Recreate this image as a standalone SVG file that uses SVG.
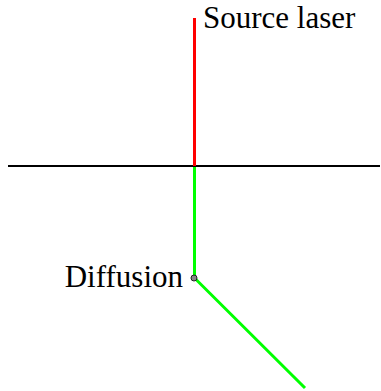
<svg xmlns="http://www.w3.org/2000/svg" width="381" height="391" viewBox="0 0 381 391">
<style>
.t{font-family:"Liberation Serif","Times New Roman",serif;font-size:31px;fill:#000}
.ln{fill:none;stroke-width:2}
.c{fill:none;stroke-width:3}
</style>
<rect width="381" height="391" fill="#fff"/>
<g id="connectors">
<line class="ln" x1="8" y1="166" x2="380" y2="166" stroke="#000"/>
<line class="c" x1="194.5" y1="18" x2="194.5" y2="166" stroke="#ff0000"/>
<polyline class="c" points="194.5,167 194.5,278 305,388" stroke="#00ff00"/>
</g>
<g id="source">
<text class="t" x="203" y="28">Source laser</text>
</g>
<g id="diffusion">
<circle cx="194" cy="278" r="3" fill="#888" stroke="#222" stroke-width="1"/>
<text class="t" x="183" y="287" text-anchor="end">Diffusion</text>
</g>
</svg>
